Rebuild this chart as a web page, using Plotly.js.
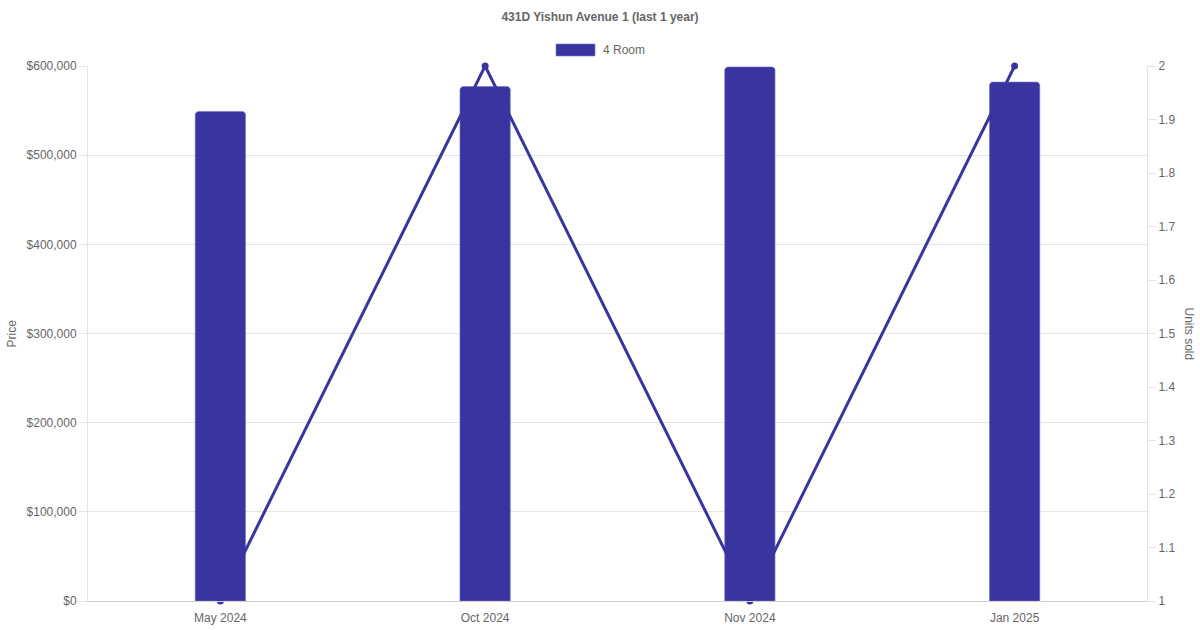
<!DOCTYPE html>
<html>
<head>
<meta charset="utf-8">
<script src="https://cdn.plot.ly/plotly-3.0.1.min.js"></script>
<style>
html,body{margin:0;padding:0;background:#fff;}
#chart{width:1200px;height:630px;}
</style>
</head>
<body>
<div id="chart"></div>
<script>
const categories = ["May 2024", "Oct 2024", "Nov 2024", "Jan 2025"];
const priceValues = [549000, 577000, 599000, 582000];
const unitsSold = [1, 2, 1, 2];
const seriesName = "4 Room";
const chartTitle = "431D Yishun Avenue 1 (last 1 year)";

const barColor = "#3935A0";
const textColor = "#666666";
const gridColor = "#e5e5e5";
const fontFamily = "Liberation Sans, Arial, Helvetica, sans-serif";

const traces = [
  {
    type: "scatter",
    mode: "lines+markers",
    x: categories,
    y: unitsSold,
    yaxis: "y2",
    name: "Units sold",
    line: {color: barColor, width: 3},
    marker: {color: barColor, size: 7},
    cliponaxis: false,
    showlegend: false
  },
  {
    type: "bar",
    x: categories,
    y: priceValues,
    name: seriesName,
    width: 0.19,
    marker: {color: barColor, cornerradius: 4, line: {color: "rgba(120,115,200,0.6)", width: 1}},
    showlegend: false
  }
];

const layout = {
  width: 1200,
  height: 630,
  paper_bgcolor: "#ffffff",
  plot_bgcolor: "#ffffff",
  margin: {l: 88, r: 53, t: 66, b: 29},
  font: {family: fontFamily, size: 12, color: textColor},
  title: {
    text: "<b>" + chartTitle + "</b>",
    font: {family: fontFamily, size: 12, color: textColor},
    x: 0.5, xanchor: "center",
    y: 1 - 17 / 630, yref: "container", yanchor: "middle"
  },
  showlegend: false,
  bargap: 0,
  xaxis: {
    type: "category",
    showgrid: false,
    showline: true,
    linecolor: "#d0d0d0",
    linewidth: 1,
    ticks: "outside",
    ticklen: 6,
    tickcolor: "rgba(0,0,0,0)",
    tickfont: {size: 12, color: textColor},
    zeroline: false,
    fixedrange: true
  },
  yaxis: {
    range: [0, 600000],
    dtick: 100000,
    tickprefix: "$",
    tickformat: ",.0f",
    showgrid: true,
    gridcolor: gridColor,
    gridwidth: 1,
    showline: true,
    linecolor: gridColor,
    zeroline: false,
    ticks: "outside",
    ticklen: 8,
    tickcolor: gridColor,
    tickfont: {size: 12, color: textColor},
    fixedrange: true
  },
  yaxis2: {
    overlaying: "y",
    side: "right",
    range: [1, 2],
    dtick: 0.1,
    tickformat: ".1~f",
    showgrid: false,
    showline: true,
    linecolor: gridColor,
    zeroline: false,
    ticks: "outside",
    ticklen: 8,
    tickcolor: gridColor,
    tickfont: {size: 12, color: textColor},
    fixedrange: true
  },
  shapes: [
    {
      type: "rect", xref: "paper", yref: "paper",
      x0: (556 - 88) / 1059, x1: (595 - 88) / 1059,
      y0: (601 - 56) / 535, y1: (601 - 44) / 535,
      fillcolor: barColor, line: {color: "rgba(120,115,200,0.6)", width: 1}
    }
  ],
  annotations: [
    {
      text: seriesName, xref: "paper", yref: "paper",
      x: (601 - 88) / 1059, y: (601 - 50) / 535,
      xanchor: "left", yanchor: "middle", showarrow: false,
      font: {size: 12, color: textColor}
    },
    {
      text: "Price", xref: "paper", yref: "paper",
      x: (11 - 88) / 1059, y: 0.5, textangle: -90,
      xanchor: "center", yanchor: "middle", showarrow: false,
      font: {size: 12, color: textColor}
    },
    {
      text: "Units sold", xref: "paper", yref: "paper",
      x: (1189 - 88) / 1059, y: 0.5, textangle: 90,
      xanchor: "center", yanchor: "middle", showarrow: false,
      font: {size: 12, color: textColor}
    }
  ]
};

Plotly.newPlot("chart", traces, layout, {displayModeBar: false, staticPlot: true});
</script>
</body>
</html>
